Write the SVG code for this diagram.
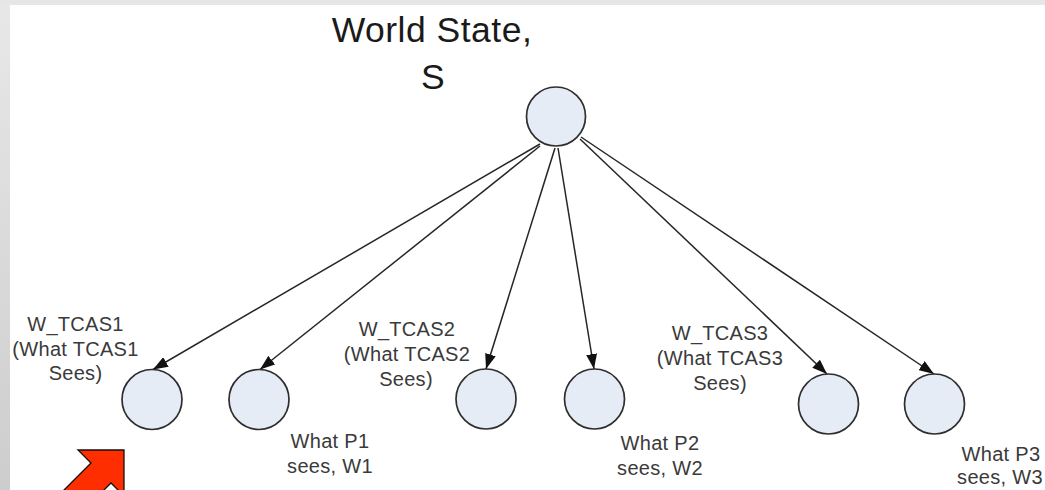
<svg xmlns="http://www.w3.org/2000/svg" width="1045" height="490" viewBox="0 0 1045 490">
  <defs>
    <linearGradient id="frameGrad" x1="0" y1="0" x2="0" y2="1">
      <stop offset="0" stop-color="#e8e8e8"/>
      <stop offset="1" stop-color="#cdcdcd"/>
    </linearGradient>
    <marker id="arrowHead" viewBox="0 0 15 11" refX="15" refY="5.5" markerWidth="15" markerHeight="11" markerUnits="userSpaceOnUse" orient="auto">
      <path d="M0,0 L15,5.5 L0,11 Z" fill="#111"/>
    </marker>
  </defs>
  <style>
    .node { fill: #e6ecf6; stroke: #2e2e2e; stroke-width: 1.7; }
    .edge { stroke: #262626; stroke-width: 1.5; fill: none; marker-end: url(#arrowHead); }
    .title { font-family: "Liberation Sans", Arial, sans-serif; font-size: 35.5px; fill: #1a1a1a; text-anchor: middle; letter-spacing: 0.5px; }
    .label { font-family: "Liberation Sans", Arial, sans-serif; font-size: 20px; fill: #3a3a3a; text-anchor: middle; letter-spacing: 0.3px; }
  </style>

  <!-- page frame -->
  <rect x="0" y="0" width="1045" height="490" fill="#ffffff"/>
  <rect x="0" y="0" width="10" height="490" fill="url(#frameGrad)"/>
  <rect x="0" y="0" width="1045" height="5" fill="#e6e6e6"/>

  <!-- connectors from the world state to each view -->
  <g id="connectors">
    <line class="edge" x1="540" y1="144" x2="153" y2="369.5"/>
    <line class="edge" x1="540" y1="146" x2="260" y2="369.5"/>
    <line class="edge" x1="555" y1="148" x2="486" y2="369"/>
    <line class="edge" x1="558" y1="148" x2="594" y2="369"/>
    <line class="edge" x1="580" y1="139" x2="827" y2="374"/>
    <line class="edge" x1="581" y1="137" x2="934" y2="374"/>
  </g>

  <!-- world state -->
  <g id="node-world-state">
    <circle class="node" cx="556" cy="116.5" r="29.5"/>
    <text class="title" x="432" y="41.5">World State,</text>
    <text class="title" x="433" y="88.5">S</text>
  </g>

  <!-- TCAS1 view -->
  <g id="node-w-tcas1">
    <circle class="node" cx="152" cy="399.5" r="30"/>
    <text class="label" x="75.5" y="331">W_TCAS1</text>
    <text class="label" x="75.5" y="355.5">(What TCAS1</text>
    <text class="label" x="75.5" y="380">Sees)</text>
  </g>

  <!-- pilot 1 view -->
  <g id="node-w1">
    <circle class="node" cx="259" cy="399.5" r="30"/>
    <text class="label" x="330" y="448">What P1</text>
    <text class="label" x="330" y="473">sees, W1</text>
  </g>

  <!-- TCAS2 view -->
  <g id="node-w-tcas2">
    <circle class="node" cx="486" cy="399" r="30"/>
    <text class="label" x="407" y="336">W_TCAS2</text>
    <text class="label" x="407" y="361">(What TCAS2</text>
    <text class="label" x="406" y="386">Sees)</text>
  </g>

  <!-- pilot 2 view -->
  <g id="node-w2">
    <circle class="node" cx="594.5" cy="399" r="30"/>
    <text class="label" x="660" y="450">What P2</text>
    <text class="label" x="660" y="475">sees, W2</text>
  </g>

  <!-- TCAS3 view -->
  <g id="node-w-tcas3">
    <circle class="node" cx="828.5" cy="404" r="30"/>
    <text class="label" x="720" y="340">W_TCAS3</text>
    <text class="label" x="720" y="365">(What TCAS3</text>
    <text class="label" x="720" y="390">Sees)</text>
  </g>

  <!-- pilot 3 view -->
  <g id="node-w3">
    <circle class="node" cx="934.5" cy="404" r="30"/>
    <text class="label" x="1001" y="461">What P3</text>
    <text class="label" x="1000" y="484">sees, W3</text>
  </g>

  <!-- red pointer arrow -->
  <path d="M124,450 L124,496 L111,483 L91,503 L51,503 L91,463 L78,450 Z" fill="#ff2e00" stroke="#111" stroke-width="1.3" stroke-linejoin="miter"/>
</svg>
